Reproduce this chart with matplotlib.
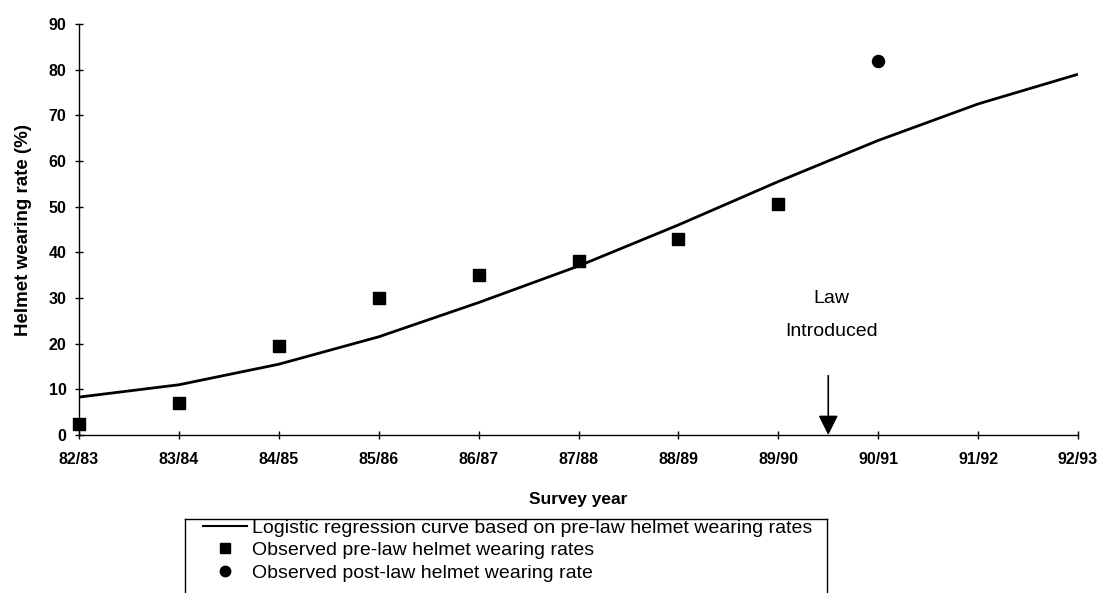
import matplotlib.pyplot as plt
from matplotlib.lines import Line2D

plt.rcParams['font.family'] = ['Liberation Sans', 'DejaVu Sans']

# Survey years on the x axis
years = ["82/83", "83/84", "84/85", "85/86", "86/87", "87/88",
         "88/89", "89/90", "90/91", "91/92", "92/93"]

# Logistic regression fit over all survey years (%)
curve_rate = [8.3, 11.0, 15.5, 21.5, 29.0, 37.0, 46.0, 55.5, 64.5, 72.5, 79.0]

# Observed rates before the law (%)
pre_law_idx = [0, 1, 2, 3, 4, 5, 6, 7]
pre_law_rate = [2.5, 7.0, 19.5, 30.0, 35.0, 38.0, 43.0, 50.5]

# Observed rate after the law (%)
post_law_idx = [8]
post_law_rate = [82.0]

law_position = 7.5  # halfway between 89/90 and 90/91

fig = plt.figure(figsize=(11.03, 5.93), dpi=100)
ax = fig.add_axes([79 / 1103, 158 / 593, 999 / 1103, 411 / 593])

x = list(range(len(years)))
ax.plot(x, curve_rate, color="black", lw=2.0, solid_capstyle="butt")
ax.scatter(pre_law_idx, pre_law_rate, marker="s", s=64, color="black", zorder=3, clip_on=False)
ax.scatter(post_law_idx, post_law_rate, marker="o", s=75, color="black", zorder=3)

ax.set_xlim(0, len(years) - 1)
ax.set_ylim(0, 90)
ax.set_xticks(x)
ax.set_xticklabels(years)
ax.set_yticks(range(0, 91, 10))

for s in ("top", "right"):
    ax.spines[s].set_visible(False)
for s in ("left", "bottom"):
    ax.spines[s].set_linewidth(1.0)
ax.tick_params(direction="inout", length=6, width=1.0, labelsize=11.5, pad=6)
ax.tick_params(axis="x", pad=9)
for lbl in ax.get_xticklabels() + ax.get_yticklabels():
    lbl.set_fontweight("bold")

ax.set_xlabel("Survey year", fontsize=12.5, fontweight="bold", labelpad=18)
ax.set_ylabel("Helmet wearing rate (%)", fontsize=13.5, fontweight="bold", labelpad=12)

# Law introduction marker
ax.annotate("", xy=(law_position, 0), xytext=(law_position, 13),
            arrowprops=dict(arrowstyle="-|>", color="black", lw=1.2,
                            mutation_scale=30, shrinkA=0, shrinkB=0))
ax.text(law_position + 0.03, 26.2, "Law\nIntroduced", ha="center", va="center",
        fontsize=14, linespacing=2.25)

# Legend with an open-bottomed frame
handles = [
    Line2D([], [], color="black", lw=1.5),
    Line2D([], [], color="black", marker="s", ls="none", markersize=7),
    Line2D([], [], color="black", marker="o", ls="none", markersize=7.5),
]
labels = [
    "Logistic regression curve based on pre-law helmet wearing rates",
    "Observed pre-law helmet wearing rates",
    "Observed post-law helmet wearing rate",
]
fig.legend(handles, labels, loc="upper left", bbox_to_anchor=(203 / 1103, 1 - 519 / 593),
           frameon=False, fontsize=14, handlelength=2.27, handletextpad=0.26,
           labelspacing=0.25, borderpad=0.0, borderaxespad=0.0)

left, right, top = 185 / 1103, 827 / 1103, 1 - 519 / 593
fig.add_artist(Line2D([left, right], [top, top], color="black", lw=1.0, transform=fig.transFigure))
fig.add_artist(Line2D([left, left], [top, 0], color="black", lw=1.0, transform=fig.transFigure))
fig.add_artist(Line2D([right, right], [top, 0], color="black", lw=1.0, transform=fig.transFigure))

fig.savefig("out.png", dpi=100)
